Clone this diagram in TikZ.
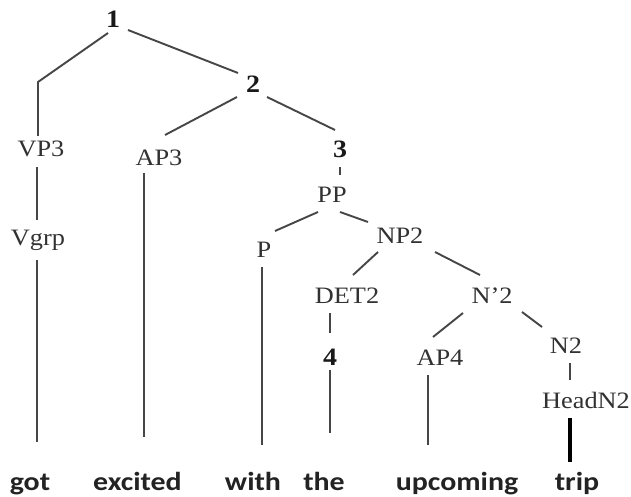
\documentclass[tikz,border=0pt]{standalone}
\usepackage{fontspec}
\setmainfont{Liberation Serif}[FakeStretch=1.12]
\newfontfamily\wordfont{Carlito}[FakeStretch=1.15]
\definecolor{labgray}{RGB}{50,50,50}
\definecolor{linegray}{RGB}{70,70,70}
\definecolor{wordgray}{RGB}{35,35,35}
\tikzset{
  lab/.style={font=\fontsize{23.5}{25}\selectfont, text=labgray, inner sep=0pt, anchor=base},
  num/.style={font=\fontsize{25}{27}\selectfont\bfseries, text=black!90, inner sep=0pt, anchor=base},
  word/.style={font=\wordfont\bfseries\fontsize{26}{28}\selectfont, text=wordgray, inner sep=0pt, anchor=base},
  edge/.style={draw=linegray, line width=1.9pt},
  thickedge/.style={draw=black, line width=3.8pt}
}
\begin{document}
\begin{tikzpicture}[x=1pt,y=-1pt]
\fill[white] (0,0) rectangle (631,497);
\useasboundingbox (0,0) rectangle (631,497);
% numbers
\node[num] (n1) at (113,28) {1};
\node[num] (n2) at (253,93) {2};
\node[num] (n3) at (340,158) {3};
\node[num] (n4) at (330,365) {4};
% labels
\node[lab] (vp3) at (41,157) {VP3};
\node[lab] (ap3) at (159,165) {AP3};
\node[lab] (vgrp) at (38,245) {Vgrp};
\node[lab] (pp) at (332,202) {PP};
\node[lab] (p) at (264,257) {P};
\node[lab] (np2) at (400,243) {NP2};
\node[lab] (det2) at (347,303) {DET2};
\node[lab] (nbar2) at (492,303) {N'2};
\node[lab] (ap4) at (440,365) {AP4};
\node[lab] (n2b) at (566,353) {N2};
\node[lab] (headn2) at (586,408) {HeadN2};
% words
\node[word] (got) at (30,490) {got};
\node[word] (excited) at (137.5,490) {excited};
\node[word] (with) at (253,490) {with};
\node[word] (the) at (324,490) {the};
\node[word] (upcoming) at (457,490) {upcoming};
\node[word] (trip) at (577,490) {trip};
% connectors
\draw[edge] ([shift={(-5,5)}]n1.base) -- (38,82) -- ([shift={(-3,-21)}]vp3.base);
\draw[edge] ([shift={(15,2)}]n1.base) -- ([shift={(-15,-20)}]n2.base);
\draw[edge] ([shift={(-16,4)}]n2.base) -- ([shift={(6,-30)}]ap3.base);
\draw[edge] ([shift={(14,4)}]n2.base) -- ([shift={(-5,-28)}]n3.base);
\draw[edge] ([shift={(0,9)}]n3.base) -- ([shift={(8,-27)}]pp.base);
\draw[edge] ([shift={(-14,10)}]pp.base) -- ([shift={(11,-26)}]p.base);
\draw[edge] ([shift={(8,10)}]pp.base) -- ([shift={(-32,-21)}]np2.base);
\draw[edge] ([shift={(-22,9)}]np2.base) -- ([shift={(6,-28)}]det2.base);
\draw[edge] ([shift={(35,9)}]np2.base) -- ([shift={(-12,-28)}]nbar2.base);
\draw[edge] ([shift={(-29,10)}]nbar2.base) -- ([shift={(-7,-28)}]ap4.base);
\draw[edge] ([shift={(30,9)}]nbar2.base) -- ([shift={(-24,-26)}]n2b.base);
\draw[edge] ([shift={(-17,10)}]det2.base) -- ([shift={(0,-32)}]n4.base);
\draw[edge] ([shift={(0,5)}]n4.base) -- ([shift={(6,-57)}]the.base);
\draw[edge] ([shift={(-4,10)}]vp3.base) -- ([shift={(-1,-25)}]vgrp.base);
\draw[edge] ([shift={(-1,15)}]vgrp.base) -- ([shift={(7,-48)}]got.base);
\draw[edge] ([shift={(-15,8)}]ap3.base) -- ([shift={(6.5,-53)}]excited.base);
\draw[edge] ([shift={(-2,10)}]p.base) -- ([shift={(9,-45)}]with.base);
\draw[edge] ([shift={(-12,10)}]ap4.base) -- ([shift={(-29,-45)}]upcoming.base);
\draw[edge] ([shift={(4,10)}]n2b.base) -- ([shift={(-16,-28)}]headn2.base);
\draw[thickedge] ([shift={(-16,10)}]headn2.base) -- ([shift={(-7,-28)}]trip.base);
\end{tikzpicture}
\end{document}
